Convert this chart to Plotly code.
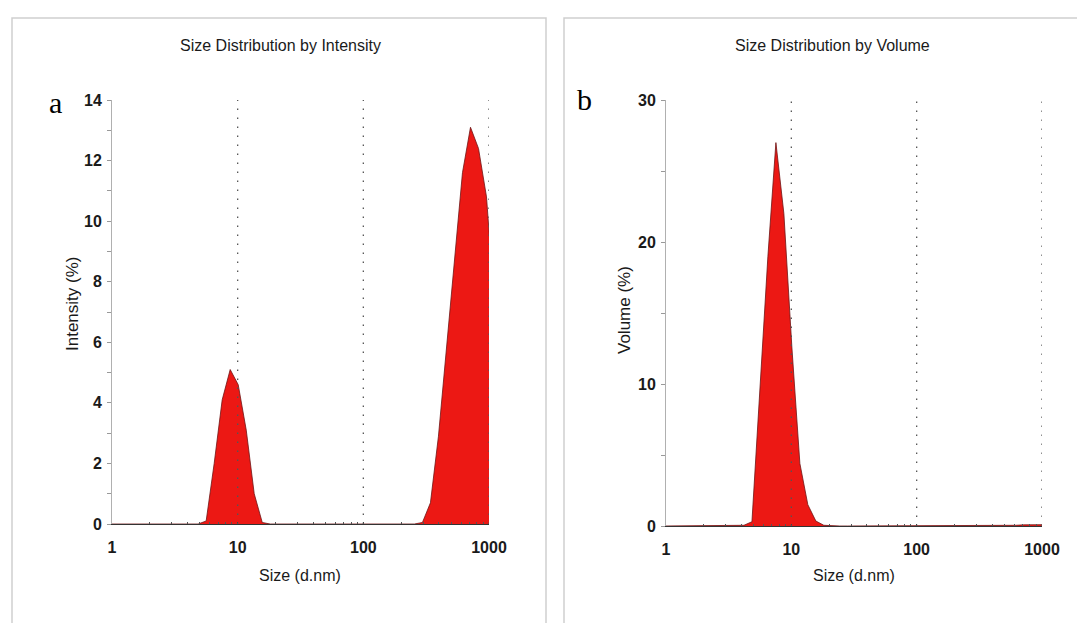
import plotly.graph_objects as go

# Zetasizer size bins (d.nm)
sizes = [0.9649, 1.117, 1.294, 1.499, 1.736, 2.010, 2.328, 2.696, 3.122, 3.615,
         4.187, 4.849, 5.615, 6.503, 7.531, 8.721, 10.10, 11.70, 13.54, 15.69,
         18.17, 21.04, 24.36, 28.21, 32.67, 37.84, 43.82, 50.75, 58.77, 68.06,
         78.82, 91.28, 105.7, 122.4, 141.8, 164.2, 190.1, 220.2, 255.0, 295.3,
         342.0, 396.1, 458.7, 531.2, 615.1, 712.4, 825.0, 955.4, 1106, 1281]

intensity = [0, 0, 0, 0, 0, 0, 0, 0, 0, 0,
             0, 0, 0.1, 2.0, 4.1, 5.1, 4.6, 3.1, 1.0, 0.05,
             0, 0, 0, 0, 0, 0, 0, 0, 0, 0,
             0, 0, 0, 0, 0, 0, 0, 0, 0, 0.05,
             0.7, 2.9, 5.8, 8.7, 11.6, 13.1, 12.4, 10.8, 7.2, 3.0]

volume = [0, 0, 0, 0, 0, 0, 0, 0, 0, 0,
          0.05, 0.3, 9.5, 19.0, 27.0, 22.0, 12.6, 4.4, 1.5, 0.35,
          0.05, 0, 0, 0, 0, 0, 0, 0, 0, 0,
          0, 0, 0, 0, 0, 0, 0, 0, 0, 0,
          0, 0, 0, 0.02, 0.05, 0.08, 0.1, 0.1, 0.1, 0.1]

x_ticks = [1, 10, 100, 1000]
x_tick_text = ["1", "10", "100", "1000"]
x_minor = [2, 3, 4, 5, 6, 7, 8, 9, 20, 30, 40, 50, 60, 70, 80, 90,
           200, 300, 400, 500, 600, 700, 800, 900]
y1_ticks = [0, 2, 4, 6, 8, 10, 12, 14]
y2_ticks = [0, 10, 20, 30]

titles = ["Size Distribution by Intensity", "Size Distribution by Volume"]
y_titles = ["Intensity (%)", "Volume (%)"]
x_title = "Size (d.nm)"
panel_letters = ["a", "b"]

W, H = 1085, 623
OFF = 8  # page body margin
FONT = "Liberation Sans"
RED = "rgb(236,24,20)"
EDGE = "rgb(110,20,20)"

def px(x):
    return (x - OFF) / W

def py(y):
    return 1 - (y - OFF) / H

fig = go.Figure()
fig.add_trace(go.Scatter(x=sizes, y=intensity, mode="lines", fill="tozeroy",
                         fillcolor=RED, line=dict(color=EDGE, width=0.8),
                         xaxis="x", yaxis="y", showlegend=False))
fig.add_trace(go.Scatter(x=sizes, y=volume, mode="lines", fill="tozeroy",
                         fillcolor=RED, line=dict(color=EDGE, width=0.8),
                         xaxis="x2", yaxis="y2", showlegend=False))

tickfont = dict(family=FONT, size=16, color="#1a1a1a", weight="bold")
xcommon = dict(type="log", range=[0, 3], tickvals=x_ticks, ticktext=x_tick_text,
               showgrid=False, zeroline=False, showline=True, linecolor="#333",
               linewidth=1, ticks="inside", ticklen=2, tickcolor="#333",
               ticklabelstandoff=9,
               minor=dict(tickvals=x_minor, ticks="inside", ticklen=2, tickcolor="#555"),
               tickfont=tickfont)
ycommon = dict(showgrid=False, zeroline=False, showline=True, linecolor="#b0b0b0",
               linewidth=1, ticks="outside", ticklen=4, tickcolor="#999",
               ticklabelstandoff=2, tickfont=tickfont)

fig.update_layout(
    width=W, height=H, margin=dict(l=0, r=0, t=0, b=0, pad=0, autoexpand=False),
    paper_bgcolor="white", plot_bgcolor="white",
    xaxis=dict(domain=[px(112), px(489)], anchor="y", **xcommon),
    yaxis=dict(domain=[py(524), py(100)], anchor="x", range=[0, 14], tickvals=y1_ticks,
               minor=dict(dtick=1, ticks="outside", ticklen=4, tickcolor="#999"),
               **ycommon),
    xaxis2=dict(domain=[px(666), px(1042)], anchor="y2", **xcommon),
    yaxis2=dict(domain=[py(526), py(100)], anchor="x2", range=[0, 30], tickvals=y2_ticks,
                minor=dict(dtick=5, ticks="outside", ticklen=4, tickcolor="#999"),
                **ycommon),
)

# dotted reference lines at decades
for xa, ya, ymax in [("x", "y", 14), ("x2", "y2", 30)]:
    for v in x_ticks[1:]:
        fig.add_shape(type="line", xref=xa, yref=ya, x0=v, x1=v, y0=0, y1=ymax,
                      line=dict(color="#555", width=1.3, dash="1.5px,7.5px"), layer="above")

# panel frames
fig.add_shape(type="rect", xref="paper", yref="paper", x0=px(12), x1=px(546),
              y0=-0.1, y1=py(18), line=dict(color="#cfcfcf", width=1.5))
fig.add_shape(type="rect", xref="paper", yref="paper", x0=px(564), x1=1.1,
              y0=-0.1, y1=py(18), line=dict(color="#cfcfcf", width=1.5))

ann = []
def label(t, cx, cy, size, family=FONT, angle=0, color="#1a1a1a"):
    ann.append(dict(text=t, x=px(cx), y=py(cy), xref="paper", yref="paper",
                    xanchor="center", yanchor="middle", showarrow=False,
                    textangle=angle, font=dict(family=family, size=size, color=color)))

for t, cx in zip(titles, [280, 832]):
    label(t, cx, 45, 16)
for cx in [300, 854]:
    label(x_title, cx, 575, 16)
for t, cx, cy in zip(y_titles, [72, 625], [304, 310]):
    label(t, cx, cy, 17, angle=-90)
for t, cx, cy in zip(panel_letters, [55, 584], [103, 99]):
    label(t, cx, cy, 30, family="Liberation Serif", color="#000")
fig.update_layout(annotations=ann)

fig.write_html("out.html")
